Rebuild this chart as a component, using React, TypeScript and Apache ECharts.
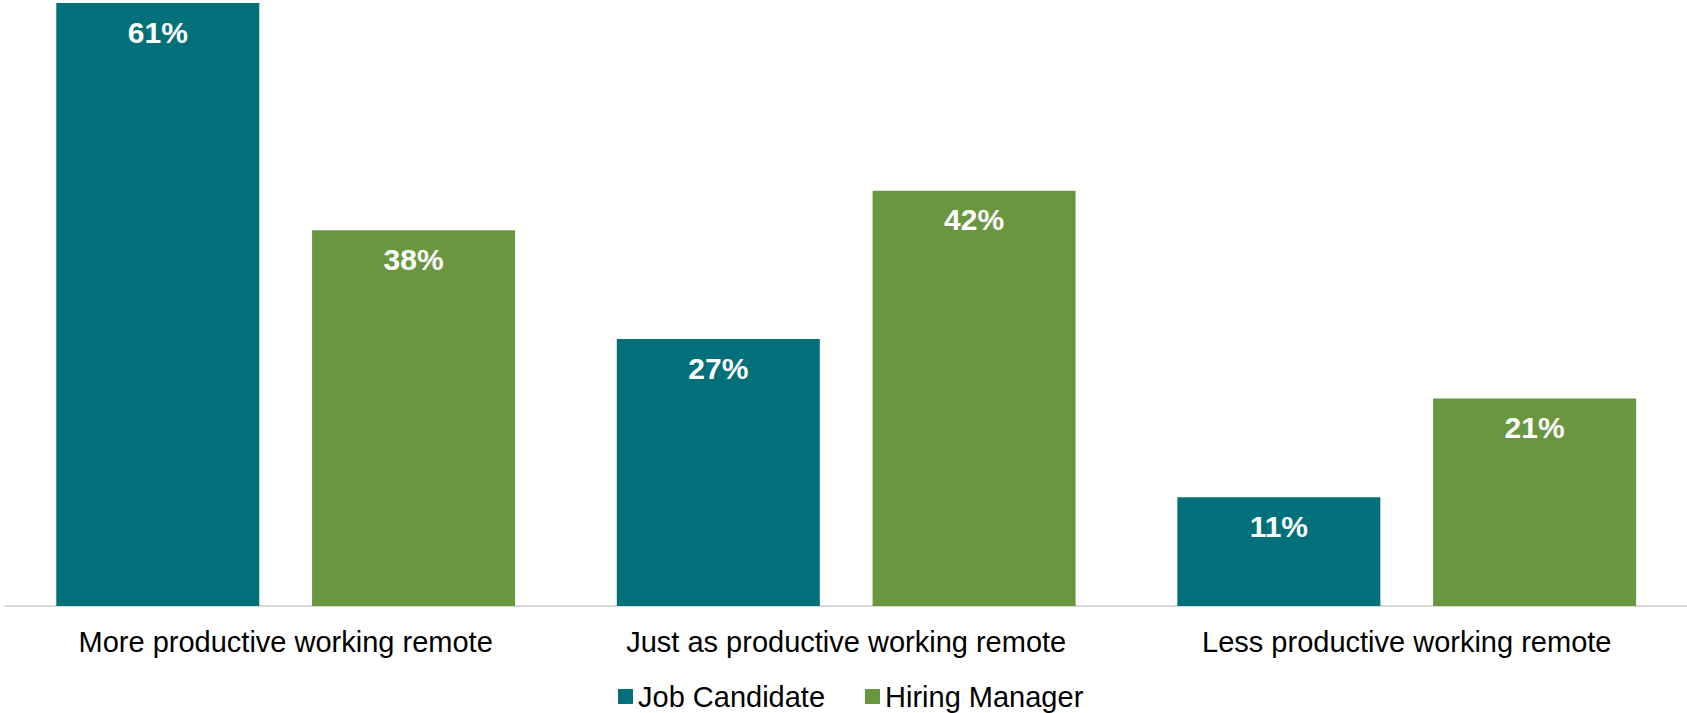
import React, { useEffect, useRef } from "react";
import * as echarts from "echarts";

const categories = [
  "More productive working remote",
  "Just as productive working remote",
  "Less productive working remote",
];
const seriesNames = ["Job Candidate", "Hiring Manager"];
const jobCandidate = [61, 27, 11];
const hiringManager = [38, 42, 21];
const colors = ["#01707A", "#689740"];

export default function App() {
  const ref = useRef<HTMLDivElement>(null);
  useEffect(() => {
    if (!ref.current) return;
    const chart = echarts.init(ref.current, undefined, { renderer: "svg" });
    const labelStyle = {
      show: true,
      position: "insideTop" as const,
      distance: 14,
      formatter: "{c}%",
      color: "#ffffff",
      fontFamily: "Liberation Sans, Arial, sans-serif",
      fontWeight: "bold" as const,
      fontSize: 30,
    };
    chart.setOption({
      animation: false,
      backgroundColor: "#ffffff",
      grid: { left: 5.4, top: 3, width: 1687, height: 603, containLabel: false },
      legend: {
        data: seriesNames,
        left: 618,
        top: 682,
        padding: 0,
        itemWidth: 15,
        itemHeight: 15,
        itemGap: 40,
        icon: "rect",
        textStyle: {
          fontFamily: "Liberation Sans, Arial, sans-serif",
          fontSize: 29,
          color: "#000000",
        },
      },
      xAxis: {
        type: "category",
        data: categories,
        axisTick: { show: false },
        axisLine: { lineStyle: { color: "#D9D9D9", width: 2 } },
        axisLabel: {
          interval: 0,
          margin: 21,
          fontFamily: "Liberation Sans, Arial, sans-serif",
          fontSize: 29,
          color: "#000000",
        },
      },
      yAxis: {
        type: "value",
        min: 0,
        max: 61,
        show: false,
        splitLine: { show: false },
      },
      series: [
        {
          name: seriesNames[0],
          type: "bar",
          data: jobCandidate,
          barWidth: 203,
          barGap: "26%",
          itemStyle: { color: colors[0] },
          label: labelStyle,
        },
        {
          name: seriesNames[1],
          type: "bar",
          data: hiringManager,
          barWidth: 203,
          barGap: "26%",
          itemStyle: { color: colors[1] },
          label: labelStyle,
        },
      ],
    });
    return () => chart.dispose();
  }, []);
  return (
    <div
      ref={ref}
      style={{ position: "absolute", left: 0, top: 0, width: 1687, height: 713 }}
    />
  );
}
